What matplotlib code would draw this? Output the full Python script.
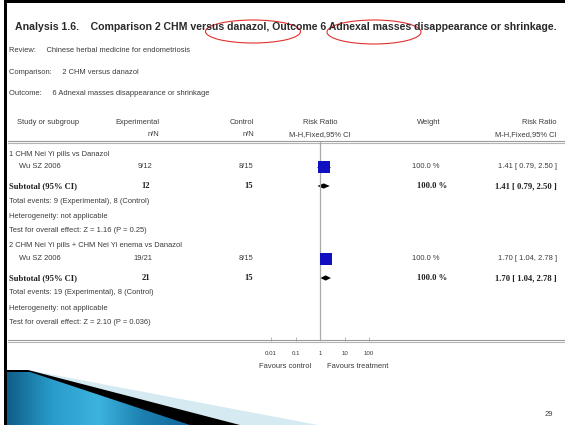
import matplotlib
matplotlib.use("Agg")
import matplotlib.pyplot as plt
import numpy as np
from matplotlib.patches import Ellipse, Polygon
from matplotlib.colors import LinearSegmentedColormap

# forest plot data
title = ("Analysis 1.6.    Comparison 2 CHM versus danazol, Outcome 6 Adnexal masses "
         "disappearance or shrinkage.")
review = "Chinese herbal medicine for endometriosis"
comparison = "2 CHM versus danazol"
outcome = "6 Adnexal masses disappearance or shrinkage"

groups = ["1 CHM Nei Yi pills vs Danazol",
          "2 CHM Nei Yi pills + CHM Nei Yi enema vs Danazol"]
studies = ["Wu SZ 2006", "Wu SZ 2006"]
exp_events = [9, 19]
exp_total = [12, 21]
ctrl_events = [8, 8]
ctrl_total = [15, 15]
risk_ratio = [1.41, 1.70]
ci_low = [0.79, 1.04]
ci_high = [2.50, 2.78]
weight = [100.0, 100.0]
z_value = [1.16, 2.10]
p_value = ["0.25", "0.036"]

axis_ticks = [0.01, 0.1, 1, 10, 100]
axis_labels = ["0.01", "0.1", "1", "10", "100"]

W, H = 565, 425
SANS = "Liberation Sans"
SERIF = "Liberation Serif"
TXT = "#3a3a3a"
small = dict(family=SANS, fontsize=5.4, color=TXT, va="center")
bold = dict(family=SERIF, fontsize=6.2, color="#202020", va="center", weight="bold")

fig = plt.figure(figsize=(W / 100, H / 100), dpi=100)
bg = fig.add_axes([0, 0, 1, 1])
bg.set_xlim(0, W)
bg.set_ylim(H, 0)
bg.axis("off")

# frame
bg.add_patch(plt.Rectangle((4, 0), 3, H, color="black", lw=0))
bg.add_patch(plt.Rectangle((4, 0), W - 4, 2.7, color="black", lw=0))

# header block
bg.text(15, 27, title, family=SANS, fontsize=7.55, weight="bold", color="#2a2a2a", va="center")
bg.text(9, 50, "Review:     " + review, **small)
bg.text(9, 72, "Comparison:     " + comparison, **small)
bg.text(9, 93, "Outcome:     " + outcome, **small)

bg.add_patch(Ellipse((253, 31.5), 95, 23, fill=False, ec="#e03030", lw=0.8))
bg.add_patch(Ellipse((374, 32), 94, 24, fill=False, ec="#e03030", lw=0.8))

# column headers
col_exp, col_ctrl, col_rr, col_w, col_ci = 159, 254, 320, 440, 557
bg.text(17, 122, "Study or subgroup", **small)
bg.text(col_exp, 122, "Experimental", ha="right", **small)
bg.text(col_exp, 135, "n/N", ha="right", **small)
bg.text(col_ctrl, 122, "Control", ha="right", **small)
bg.text(col_ctrl, 135, "n/N", ha="right", **small)
bg.text(col_rr, 122, "Risk Ratio", ha="center", **small)
bg.text(col_rr, 135, "M-H,Fixed,95% CI", ha="center", **small)
bg.text(col_w, 122, "Weight", ha="right", **small)
bg.text(col_ci, 122, "Risk Ratio", ha="right", **small)
bg.text(col_ci, 135, "M-H,Fixed,95% CI", ha="right", **small)

for y in (142, 341):
    bg.plot([8, W], [y - 1.2, y - 1.2], color="#9a9a9a", lw=0.8)
    bg.plot([8, W], [y + 1.0, y + 1.0], color="#b5b5b5", lw=0.8)

# row positions of each subgroup block
group_y = [154, 245]
study_y = [167, 259]
sub_y = [186, 278]
note_y = [[201, 216, 230], [293, 308, 322]]

for i in range(len(groups)):
    bg.text(9, group_y[i], groups[i], **small)
    bg.text(19, study_y[i], studies[i], **small)
    bg.text(col_exp - 7, study_y[i], f"{exp_events[i]}/{exp_total[i]}", ha="right", **small)
    bg.text(col_ctrl - 1, study_y[i], f"{ctrl_events[i]}/{ctrl_total[i]}", ha="right", **small)
    bg.text(col_w, study_y[i], f"{weight[i]:.1f} %", ha="right", **small)
    bg.text(col_ci, study_y[i], f"{risk_ratio[i]:.2f} [ {ci_low[i]:.2f}, {ci_high[i]:.2f} ]",
            ha="right", **small)

    bg.text(9, sub_y[i], "Subtotal (95% CI)", **bold)
    bg.text(col_exp - 9, sub_y[i], f"{exp_total[i]}", ha="right", **bold)
    bg.text(col_ctrl - 1, sub_y[i], f"{ctrl_total[i]}", ha="right", **bold)
    bg.text(col_w + 7, sub_y[i], f"{weight[i]:.1f} %", ha="right", **bold)
    bg.text(col_ci, sub_y[i], f"{risk_ratio[i]:.2f} [ {ci_low[i]:.2f}, {ci_high[i]:.2f} ]",
            ha="right", **bold)

    notes = [f"Total events: {exp_events[i]} (Experimental), {ctrl_events[i]} (Control)",
             "Heterogeneity: not applicable",
             f"Test for overall effect: Z = {z_value[i]:.2f} (P = {p_value[i]})"]
    for y, s in zip(note_y[i], notes):
        bg.text(9, y, s, **small)

bg.text(285, 366, "Favours control", ha="center", **small)
bg.text(358, 366, "Favours treatment", ha="center", **small)
bg.text(549, 414, "29", family=SANS, fontsize=5.5, color="#404040", ha="center", va="center")

# slide decoration in the lower left corner
bg.add_patch(Polygon([(7, 370), (28, 370), (318, 425), (7, 425)], color="#d6eaf2", lw=0))
bg.add_patch(Polygon([(7, 370), (28, 370), (240, 425), (7, 425)], color="black", lw=0))
blue_clip = Polygon([(7, 372), (30, 372), (190, 425), (7, 425)], transform=bg.transData)
blue = LinearSegmentedColormap.from_list("b", ["#0e5f88", "#2a9ccb", "#3cb3de", "#1c7fb0", "#12679a"])
grad = bg.imshow(np.linspace(0, 1, 256)[None, :], cmap=blue, aspect="auto",
                 extent=(7, 190, 425, 372), zorder=3)
grad.set_clip_path(blue_clip)
bg.set_xlim(0, W)
bg.set_ylim(H, 0)

# forest panel on a log risk-ratio scale
ax = fig.add_axes([271 / W, (H - 341) / H, 98 / W, 199 / H])
ax.patch.set_alpha(0)
ax.set_xscale("log")
ax.set_xlim(axis_ticks[0], axis_ticks[-1])
ax.set_ylim(341, 142)
for s in ax.spines.values():
    s.set_visible(False)
ax.axvline(1, color="#a8a8a8", lw=0.9)
ax.hlines(study_y, ci_low, ci_high, color="black", lw=0.6)
ax.scatter(risk_ratio, study_y, marker="s", s=75, color="#1010c0", zorder=3, linewidths=0)
for i in range(len(groups)):
    ax.fill([ci_low[i], risk_ratio[i], ci_high[i], risk_ratio[i]],
            [sub_y[i], sub_y[i] - 2.6, sub_y[i], sub_y[i] + 2.6], color="black", lw=0)
ax.set_xticks(axis_ticks)
ax.set_xticklabels(axis_labels)
ax.minorticks_off()
ax.set_yticks([])
ax.tick_params(axis="x", direction="in", length=3, width=0.5, color="#999999",
               labelsize=4.4, labelcolor=TXT, pad=7)
for lab in ax.get_xticklabels():
    lab.set_family(SANS)

fig.savefig("out.png", dpi=100)
